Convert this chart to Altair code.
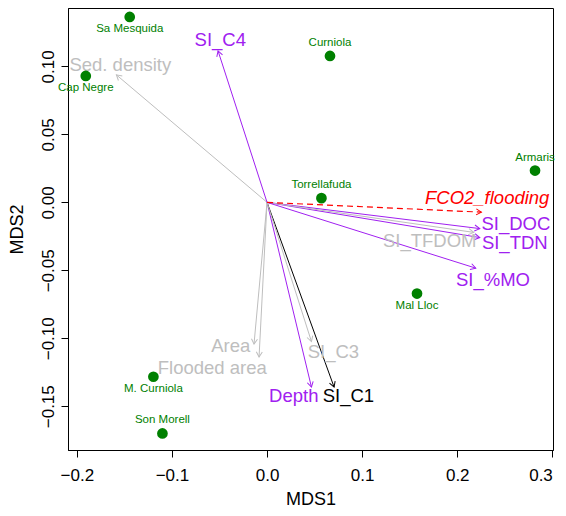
import math
import altair as alt
import pandas as pd

FONT = "Liberation Sans"

# ---- site scores (green points) ----
sites = ["Sa Mesquida", "Cap Negre", "Curniola", "Armaris", "Torrellafuda",
         "Mal Lloc", "M. Curniola", "Son Morell"]
site_x = [-0.1444, -0.1906, 0.0662, 0.2818, 0.0572, 0.1577, -0.1195, -0.1100]
site_y = [0.1364, 0.0930, 0.1077, 0.0234, 0.0031, -0.0671, -0.1283, -0.1700]
site_side = ["below", "below", "above", "above", "above", "below", "below", "above"]

# ---- fitted vectors (arrows) ----
vectors = ["Sed. density", "SI_C4", "FCO2_flooding", "SI_DOC", "SI_TDN", "SI_TFDOM",
           "SI_%MO", "Depth", "SI_C1", "SI_C3", "Area", "Flooded area"]
vec_x = [-0.1584, -0.0515, 0.2254, 0.2237, 0.2237, 0.2174,
         0.2195, 0.0467, 0.0705, 0.0467, -0.0137, -0.0084]
vec_y = [0.0938, 0.1114, -0.0072, -0.0193, -0.0259, -0.0221,
         -0.0484, -0.1359, -0.1359, -0.1024, -0.1043, -0.1138]
vec_group = ["env", "SI", "flux", "SI", "SI", "env",
             "SI", "SI", "C1", "env", "env", "env"]
lab_x = [-0.1543, -0.0492, 0.2315, 0.2617, 0.2605, 0.1711,
         0.2376, 0.0281, 0.0856, 0.0698, -0.0382, -0.0576]
lab_y = [0.1011, 0.1195, 0.0035, -0.0160, -0.0300, -0.0281,
         -0.0570, -0.1428, -0.1428, -0.1104, -0.1055, -0.1219]

x_ticks = [-0.2, -0.1, 0.0, 0.1, 0.2, 0.3]
y_ticks = [-0.15, -0.10, -0.05, 0.00, 0.05, 0.10]

X_DOMAIN = [-0.2093, 0.3007]
Y_DOMAIN = [-0.1822, 0.1430]
W, H = 485, 442

sx = W / (X_DOMAIN[1] - X_DOMAIN[0])
sy = H / (Y_DOMAIN[1] - Y_DOMAIN[0])

site_df = pd.DataFrame({"site": sites, "x": site_x, "y": site_y, "side": site_side})
vec_df = pd.DataFrame({"name": vectors, "x": vec_x, "y": vec_y, "group": vec_group,
                       "lx": lab_x, "ly": lab_y})
vec_df["x0"] = 0.0
vec_df["y0"] = 0.0
vec_df["ang"] = [math.degrees(math.atan2(a * sx, b * sy)) % 360 for a, b in zip(vec_x, vec_y)]

xs = alt.Scale(domain=X_DOMAIN, nice=False, zero=False)
ys = alt.Scale(domain=Y_DOMAIN, nice=False, zero=False)
x_axis = alt.Axis(values=x_ticks, format=".1f")
y_axis = alt.Axis(values=y_ticks, format=".2f")


def X(field):
    return alt.X(field, scale=xs, axis=x_axis, title="MDS1")


def Y(field):
    return alt.Y(field, scale=ys, axis=y_axis, title="MDS2")


cscale = alt.Scale(domain=["env", "SI", "flux", "C1"],
                   range=["#BEBEBE", "#A020F0", "#FF0000", "#000000"])
col = alt.Color("group:N", scale=cscale, legend=None)

ARROW = "M -0.5 0.866 L 0 0 L 0.5 0.866"
GREEN = "#008000"

base = alt.Chart(vec_df)

solid = base.transform_filter("datum.group != 'flux'").mark_rule(strokeWidth=1).encode(
    x=X("x0:Q"), y=Y("y0:Q"), x2="x:Q", y2="y:Q", color=col)

dashed = base.transform_filter("datum.group == 'flux'").mark_rule(
    strokeWidth=1.2, strokeDash=[6, 4]).encode(
    x=X("x0:Q"), y=Y("y0:Q"), x2="x:Q", y2="y:Q", color=col)

heads = base.mark_point(shape=ARROW, filled=False, size=144, strokeWidth=1, opacity=1).encode(
    x=X("x:Q"), y=Y("y:Q"),
    angle=alt.Angle("ang:Q", scale=None),
    color=col)

vlabels = base.transform_filter("datum.group != 'flux'").mark_text(
    font=FONT, fontSize=18.5, align="center", baseline="middle").encode(
    x=X("lx:Q"), y=Y("ly:Q"), text="name:N", color=col)

flabel = base.transform_filter("datum.group == 'flux'").mark_text(
    font=FONT, fontSize=18.5, fontStyle="italic", align="center", baseline="middle").encode(
    x=X("lx:Q"), y=Y("ly:Q"), text="name:N", color=col)

sbase = alt.Chart(site_df)
points = sbase.mark_circle(size=115, color=GREEN, opacity=1).encode(
    x=X("x:Q"), y=Y("y:Q"))

lab_below = sbase.transform_filter("datum.side == 'below'").mark_text(
    font=FONT, fontSize=11.5, color=GREEN, dy=12, baseline="middle").encode(
    x=X("x:Q"), y=Y("y:Q"), text="site:N")

lab_above = sbase.transform_filter("datum.side == 'above'").mark_text(
    font=FONT, fontSize=11.5, color=GREEN, dy=-13, baseline="middle").encode(
    x=X("x:Q"), y=Y("y:Q"), text="site:N")

chart = alt.layer(solid, dashed, heads, vlabels, flabel, points, lab_below, lab_above).properties(
    width=W, height=H,
    autosize=alt.AutoSizeParams(type="none"),
    padding={"left": 60, "top": 0, "right": 5, "bottom": 57},
).configure_view(
    stroke="black", strokeWidth=1
).configure_axis(
    grid=False, domainColor="black", tickColor="black", tickSize=7,
    labelFont=FONT, titleFont=FONT, labelFontSize=17, titleFontSize=18,
    labelColor="black", titleColor="black", titleFontWeight="normal",
).configure_axisX(
    labelPadding=10, titleY=49, titleBaseline="middle",
).configure_axisY(
    labelAngle=270, labelAlign="center", labelBaseline="alphabetic", labelPadding=8,
    titleX=-51, titleY=221, titleAngle=270, titleAlign="center", titleBaseline="middle",
)

chart.save("out.html", embed_options={"renderer": "svg", "actions": False})
